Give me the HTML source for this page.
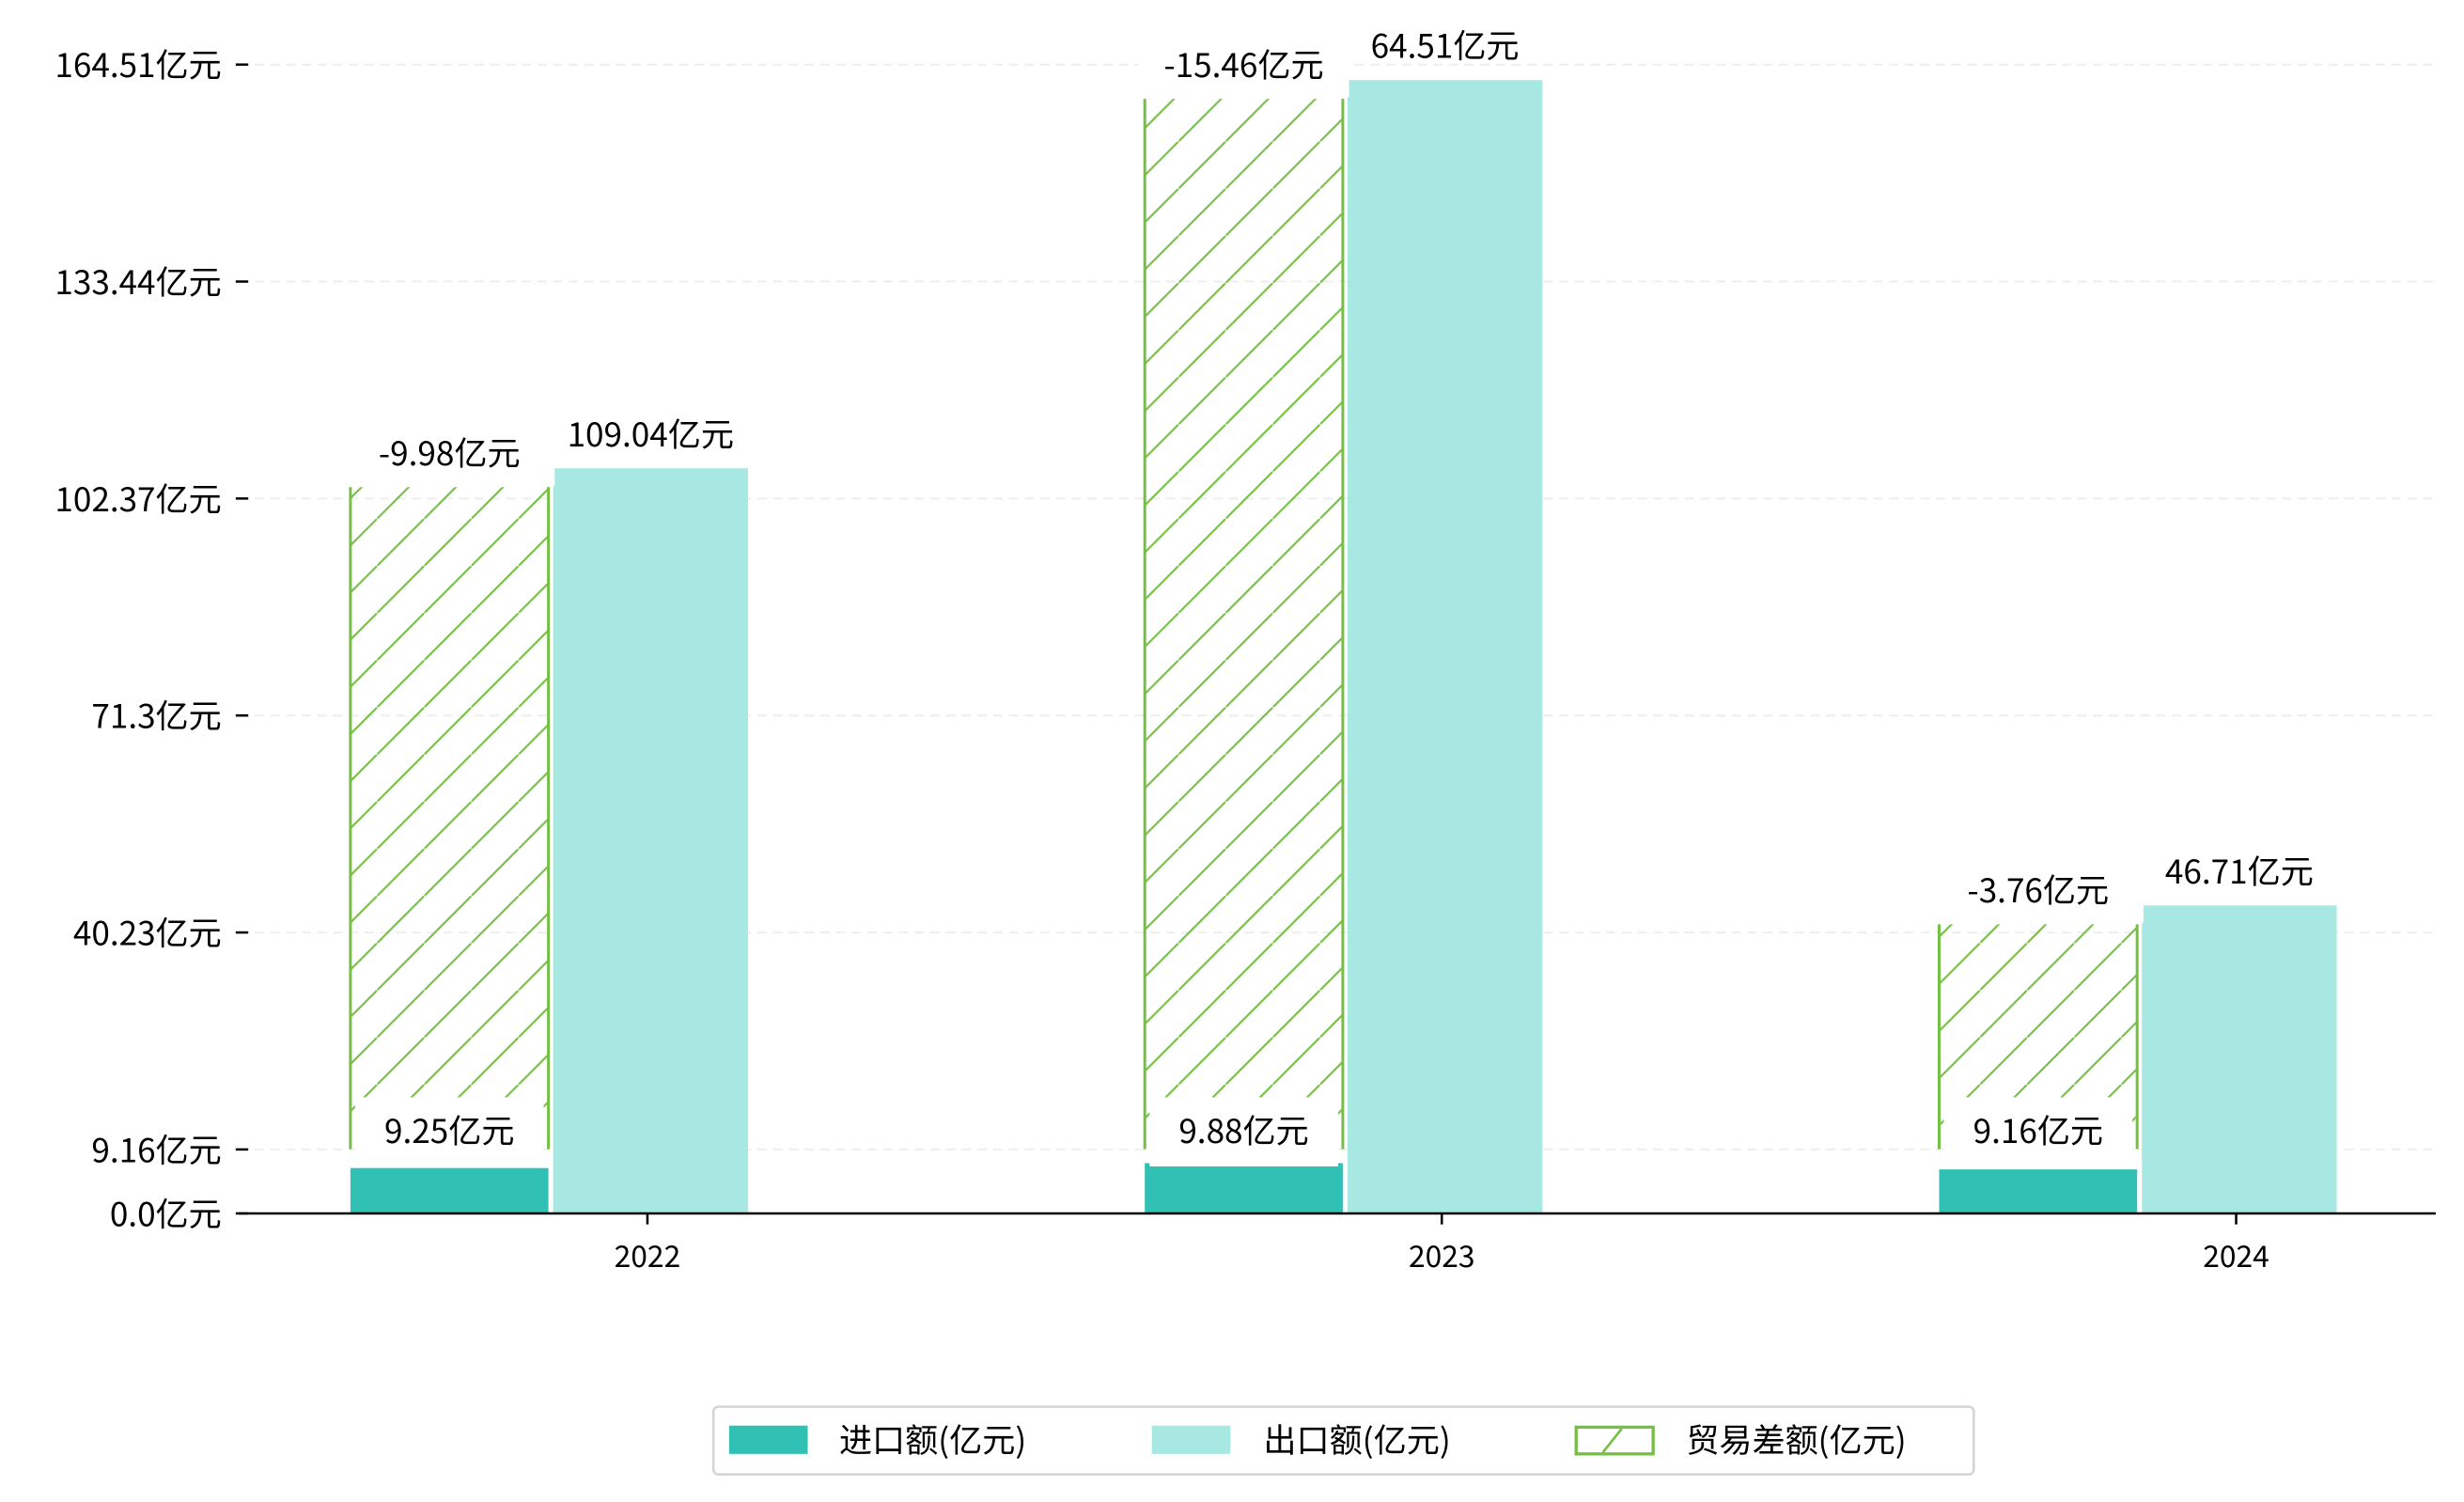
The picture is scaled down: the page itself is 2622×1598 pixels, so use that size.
<!DOCTYPE html>
<html><head><meta charset="utf-8"><style>
html,body{margin:0;padding:0;background:#fff;}
svg{display:block;}
text{font-family:"WenQuanYi Zen Hei","Noto Sans CJK SC","Liberation Sans",sans-serif;fill:#000;}
</style></head><body>
<svg id="chart" width="2622" height="1598" viewBox="0 0 1568 955.6" preserveAspectRatio="none" xmlns="http://www.w3.org/2000/svg">
<defs>
<pattern id="hatch" patternUnits="userSpaceOnUse" width="30" height="30">
<line x1="-3" y1="33" x2="33" y2="-3" stroke="#76bf45" stroke-width="1.3"/>
</pattern>
</defs>
<g id="grid"></g><g id="bars"></g><g id="labels"></g><g id="axes"></g>
<g>
<rect x="454" y="895" width="802" height="43" rx="3" fill="#fff" stroke="#d4d4d4" stroke-width="1.5"/>
<rect x="464" y="907" width="50" height="18" fill="#30c0b4"/>
<text x="534" y="924" font-size="21">进口额(亿元)</text>
<rect x="733" y="907" width="50" height="18" fill="#a8e8e2"/>
<text x="804" y="924" font-size="21">出口额(亿元)</text>
<rect x="1003" y="908" width="49" height="17" fill="#fff" stroke="#76bf45" stroke-width="2"/>
<line x1="1020" y1="924" x2="1032" y2="909" stroke="#76bf45" stroke-width="1.6"/>
<text x="1073" y="924" font-size="21">贸易差额(亿元)</text>
</g>
</svg>
<script>
const categories = ["2022", "2023", "2024"];
const importValues = [6.5, 7.2, 6.3];
const exportValues = [106.7, 162.3, 44.1];
const balanceBottom = [9.2, 9.2, 9.2];
const balanceTop = [104.0, 159.6, 41.4];
const importLabels = ["9.25亿元", "9.88亿元", "9.16亿元"];
const exportLabels = ["109.04亿元", "64.51亿元", "46.71亿元"];
const balanceLabels = ["-9.98亿元", "-15.46亿元", "-3.76亿元"];
const yTickValues = [0, 9.16, 40.23, 71.3, 102.37, 133.44, 164.51];
const yTickLabels = ["0.0亿元", "9.16亿元", "40.23亿元", "71.3亿元", "102.37亿元", "133.44亿元", "164.51亿元"];

const NS = "http://www.w3.org/2000/svg";
const x0 = 152, x1 = 1550, yZero = 772, pxPerUnit = 4.443;
const y = v => yZero - v * pxPerUnit;
const xc = i => 412 + i * 505.5;
function mk(tag, attrs, parent, txt) {
  const e = document.createElementNS(NS, tag);
  for (const k in attrs) e.setAttribute(k, attrs[k]);
  if (txt !== undefined) e.textContent = txt;
  parent.appendChild(e);
  return e;
}
const grid = document.getElementById("grid"), bars = document.getElementById("bars"),
      labels = document.getElementById("labels"), axes = document.getElementById("axes");

yTickValues.forEach((v, i) => {
  if (v > 0) {
    const g = mk("line", {x1: x0, x2: x1, y1: y(v), y2: y(v), stroke: "#eeeeee", "stroke-width": 1.2, "stroke-dasharray": "6 4"}, grid);
    
    
  }
  const t = mk("line", {x1: x0 - 2, x2: x0 + 6, y1: y(v), y2: y(v), stroke: "#000", "stroke-width": 1.5}, axes);
  
  
  const l = mk("text", {x: 141, y: y(v) + 8, "font-size": 21, "text-anchor": "end"}, axes, yTickLabels[i]);
  
  
});

categories.forEach((c, i) => {
  const cx = xc(i);
  const il = cx - 189, bw = 126;
  const imp = mk("rect", {x: il, y: y(importValues[i]), width: bw, height: importValues[i] * pxPerUnit, fill: "#30c0b4"}, bars);
  
  
  const ex = mk("rect", {x: cx - 60, y: y(exportValues[i]), width: 124, height: exportValues[i] * pxPerUnit, fill: "#a8e8e2"}, bars);
  
  
  const hb = mk("rect", {x: il, y: y(balanceTop[i]), width: bw, height: (balanceTop[i] - balanceBottom[i]) * pxPerUnit, fill: "url(#hatch)"}, bars);
  
  
  [il, il + bw].forEach(sx => {
    const s = mk("line", {x1: sx, x2: sx, y1: y(balanceTop[i]), y2: y(balanceBottom[i]), stroke: "#76bf45", "stroke-width": 1.8}, bars);
    
    
  });

  const ib = mk("rect", {x: il + 3, y: y(balanceBottom[i]) - 33, width: bw - 6, height: 44, fill: "#fff"}, labels);
  
  
  const it = mk("text", {x: il + bw / 2, y: y(balanceBottom[i]) - 4, "font-size": 21, "text-anchor": "middle"}, labels, importLabels[i]);
  
  
  const bb = mk("rect", {x: il - 4, y: y(balanceTop[i]) - 34, width: bw + 8, height: 33, fill: "#fff"}, labels);
  
  
  const bt = mk("text", {x: il + bw / 2, y: y(balanceTop[i]) - 14, "font-size": 21, "text-anchor": "middle"}, labels, balanceLabels[i]);
  
  
  const et = mk("text", {x: cx + 2, y: y(exportValues[i]) - 14, "font-size": 21, "text-anchor": "middle"}, labels, exportLabels[i]);
  
  

  const xt = mk("line", {x1: cx, x2: cx, y1: yZero, y2: yZero + 7, stroke: "#000", "stroke-width": 1.5}, axes);
  
  
  const xl = mk("text", {x: cx, y: yZero + 34, "font-size": 19, "text-anchor": "middle"}, axes, c);
  
  
});
const ax = mk("line", {x1: x0, x2: x1, y1: yZero, y2: yZero, stroke: "#000", "stroke-width": 1.5}, axes);


</script>
</body></html>
